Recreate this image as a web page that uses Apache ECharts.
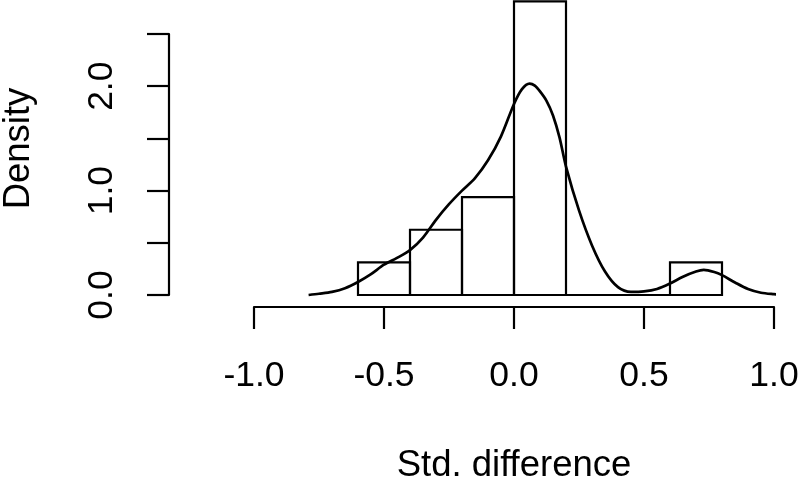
<!DOCTYPE html>
<html>
<head>
<meta charset="utf-8">
<script src="https://cdn.jsdelivr.net/npm/echarts@6/dist/echarts.min.js"></script>
<style>
  html, body { margin: 0; padding: 0; background: #ffffff; }
  #chart { width: 800px; height: 478px; }
</style>
</head>
<body>
<div id="chart"></div>
<script>
// Histogram bins (left edge, right edge) and densities
const binStarts = [-0.6, -0.4, -0.2, 0.0, 0.2, 0.4, 0.6];
const binEnds   = [-0.4, -0.2,  0.0, 0.2, 0.4, 0.6, 0.8];
const binDensity = [0.3125, 0.625, 0.9375, 2.8125, 0, 0, 0.3125];

// Kernel density curve
const densityX = [-0.79, -0.75, -0.70, -0.65, -0.60, -0.55, -0.50, -0.45, -0.40, -0.35,
                  -0.30, -0.25, -0.20, -0.15, -0.10, -0.05, 0.00, 0.03, 0.06, 0.08,
                  0.10, 0.125, 0.15, 0.175, 0.20, 0.25, 0.30, 0.35, 0.40, 0.45,
                  0.50, 0.55, 0.60, 0.65, 0.70, 0.73, 0.77, 0.80, 0.85, 0.90,
                  0.95, 1.00, 1.044];
const densityY = [0.0, 0.012, 0.03, 0.065, 0.125, 0.2, 0.29, 0.355, 0.43, 0.55,
                  0.72, 0.87, 1.0, 1.12, 1.29, 1.52, 1.83, 1.97, 2.025, 2.005,
                  1.95, 1.86, 1.72, 1.51, 1.23, 0.81, 0.475, 0.225, 0.075, 0.03,
                  0.035, 0.058, 0.11, 0.175, 0.225, 0.24, 0.22, 0.19, 0.12, 0.058,
                  0.022, 0.008, 0.0];

// Tick labels
const xTickValues = [-1.0, -0.5, 0.0, 0.5, 1.0];
const xTickLabels = ['-1.0', '-0.5', '0.0', '0.5', '1.0'];
const yTickValues = [0.0, 1.0, 2.0];
const yTickLabels = ['0.0', '1.0', '2.0'];

const xTitle = 'Std. difference';
const yTitle = 'Density';

const FONT = 'Liberation Sans, Arial, Helvetica, sans-serif';
const chart = echarts.init(document.getElementById('chart'), null, { renderer: 'canvas' });

const histData = binStarts.map((s, i) => [s, binEnds[i], binDensity[i]]);
const curveData = densityX.map((x, i) => [x, densityY[i]]);

function labelFor(values, labels) {
  return function (v) {
    for (let i = 0; i < values.length; i++) {
      if (Math.abs(values[i] - v) < 1e-9) return labels[i];
    }
    return '';
  };
}

chart.setOption({
  backgroundColor: '#ffffff',
  animation: false,
  grid: { left: 254, right: 26, top: 34, bottom: 183, containLabel: false, outerBoundsMode: 'none' },
  xAxis: {
    type: 'value',
    min: -1, max: 1, interval: 0.5,
    offset: 12,
    axisLine: { show: true, onZero: false, lineStyle: { color: '#000', width: 2.2 } },
    axisTick: { show: true, length: 22, lineStyle: { color: '#000', width: 2.2 } },
    axisLabel: { margin: 51, fontSize: 35.5, color: '#000', fontFamily: FONT,
                 formatter: labelFor(xTickValues, xTickLabels) },
    splitLine: { show: false },
    name: xTitle, nameLocation: 'middle', nameGap: 140,
    nameTextStyle: { fontSize: 36.5, color: '#000', fontFamily: FONT }
  },
  yAxis: {
    type: 'value',
    min: 0, max: 2.5, interval: 0.5,
    offset: 85,
    axisLine: { show: true, onZero: false, lineStyle: { color: '#000', width: 2.2 } },
    axisTick: { show: true, length: 22, lineStyle: { color: '#000', width: 2.2 } },
    axisLabel: { margin: 49, fontSize: 35.5, color: '#000', fontFamily: FONT, rotate: 90,
                 formatter: labelFor(yTickValues, yTickLabels) },
    splitLine: { show: false },
    name: yTitle, nameLocation: 'middle', nameGap: 132,
    nameTextStyle: { fontSize: 36.5, color: '#000', fontFamily: FONT, padding: [0, 0, 0, 32] }
  },
  series: [
    {
      type: 'custom',
      clip: false,
      data: histData,
      encode: { x: [0, 1], y: 2 },
      renderItem: function (params, api) {
        const p0 = api.coord([api.value(0), 0]);
        const p1 = api.coord([api.value(1), api.value(2)]);
        return {
          type: 'rect',
          shape: { x: p0[0], y: p1[1], width: p1[0] - p0[0], height: p0[1] - p1[1] },
          style: { fill: 'none', stroke: '#000', lineWidth: 2.2 }
        };
      },
      z: 2
    },
    {
      type: 'line',
      data: curveData,
      clip: false,
      smooth: 0.3,
      showSymbol: false,
      lineStyle: { color: '#000', width: 2.7 },
      z: 3
    }
  ]
});
</script>
</body>
</html>
